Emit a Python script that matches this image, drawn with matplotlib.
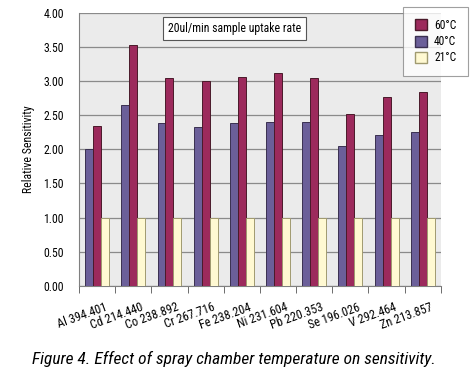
import matplotlib
matplotlib.use("Agg")
import matplotlib.pyplot as plt
import numpy as np
from matplotlib.patches import Patch
from matplotlib.transforms import ScaledTranslation

categories = ["Al 394.401", "Cd 214.440", "Co 238.892", "Cr 267.716", "Fe 238.204",
              "Ni 231.604", "Pb 220.353", "Se 196.026", "V 292.464", "Zn 213.857"]
s40 = [2.00, 2.65, 2.39, 2.33, 2.39, 2.41, 2.40, 2.05, 2.22, 2.25]
s60 = [2.34, 3.54, 3.05, 3.00, 3.06, 3.12, 3.05, 2.52, 2.77, 2.84]
s21 = [1.00, 1.00, 1.00, 1.00, 1.00, 1.00, 1.00, 1.00, 1.00, 1.00]
yticks = [0.0, 0.5, 1.0, 1.5, 2.0, 2.5, 3.0, 3.5, 4.0]

plt.rcParams['font.family'] = ['Roboto Condensed', 'Archivo Narrow', 'Liberation Sans Narrow', 'DejaVu Sans']

fig = plt.figure(figsize=(4.71, 3.82), dpi=100)
ax = fig.add_axes([0.1677, 0.2526, 0.7683, 0.7121])
ax.set_facecolor('#ebebeb')

c40 = '#6b5f99'
c60 = '#9c2a5c'
c21 = '#fff9d2'
x = np.arange(len(categories))
w = 0.22
ax.bar(x - w, s40, w, color=c40, edgecolor='#3a3050', linewidth=0.7, zorder=3)
ax.bar(x, s60, w, color=c60, edgecolor='#4a1a2a', linewidth=0.7, zorder=3)
ax.bar(x + w, s21, w, color=c21, edgecolor='#a09a70', linewidth=0.7, zorder=3)

ax.set_xlim(-0.5, len(categories) - 0.5)
ax.set_ylim(0, 4.0)
ax.set_yticks(yticks)
ax.set_yticklabels([f"{v:.2f}" for v in yticks], fontsize=8.5)
ax.yaxis.grid(True, color='#8a8a8a', linewidth=0.9, zorder=1)
ax.tick_params(axis='y', length=0, pad=11)

ax.set_xticks(x)
ax.set_xticklabels(categories, rotation=20, ha='right', rotation_mode='anchor', fontsize=8.8)
ax.tick_params(axis='x', which='major', length=0, pad=11)
ax.set_xticks(np.arange(-0.5, len(categories), 1.0), minor=True)
ax.tick_params(axis='x', which='minor', length=5, color='#555555', direction='out')
off = ScaledTranslation(7/100, 0, fig.dpi_scale_trans)
for lab in ax.get_xticklabels():
    lab.set_transform(lab.get_transform() + off)

for s in ['top', 'right']:
    ax.spines[s].set_visible(False)
ax.spines['left'].set_color('#808080')
ax.spines['bottom'].set_color('#808080')

ax.set_ylabel("Relative Sensitivity", fontsize=8.5, labelpad=6)

ax.text(0.245, 0.945, "20ul/min sample uptake rate", transform=ax.transAxes,
        fontsize=8.5, va='center', ha='left',
        bbox=dict(boxstyle='square,pad=0.4', facecolor='white', edgecolor='#555555', linewidth=0.8))

handles = [Patch(facecolor=c60, edgecolor='#4a1a2a', label='60°C'),
           Patch(facecolor=c40, edgecolor='#3a3050', label='40°C'),
           Patch(facecolor=c21, edgecolor='#a09a70', label='21°C')]
leg = fig.legend(handles=handles, loc='upper left', bbox_to_anchor=(403/471, 1 - 7/382),
                 fontsize=8.3, frameon=True, fancybox=False, edgecolor='#888888',
                 handlelength=1.1, handleheight=1.1, borderpad=1.0, labelspacing=0.3,
                 handletextpad=0.6, borderaxespad=0)
leg.get_frame().set_linewidth(0.8)

fig.text(0.496, 1 - 359/382, "Figure 4. Effect of spray chamber temperature on sensitivity.",
         ha='center', va='center', fontsize=12.5, style='italic')

fig.savefig("out.png", dpi=100)
